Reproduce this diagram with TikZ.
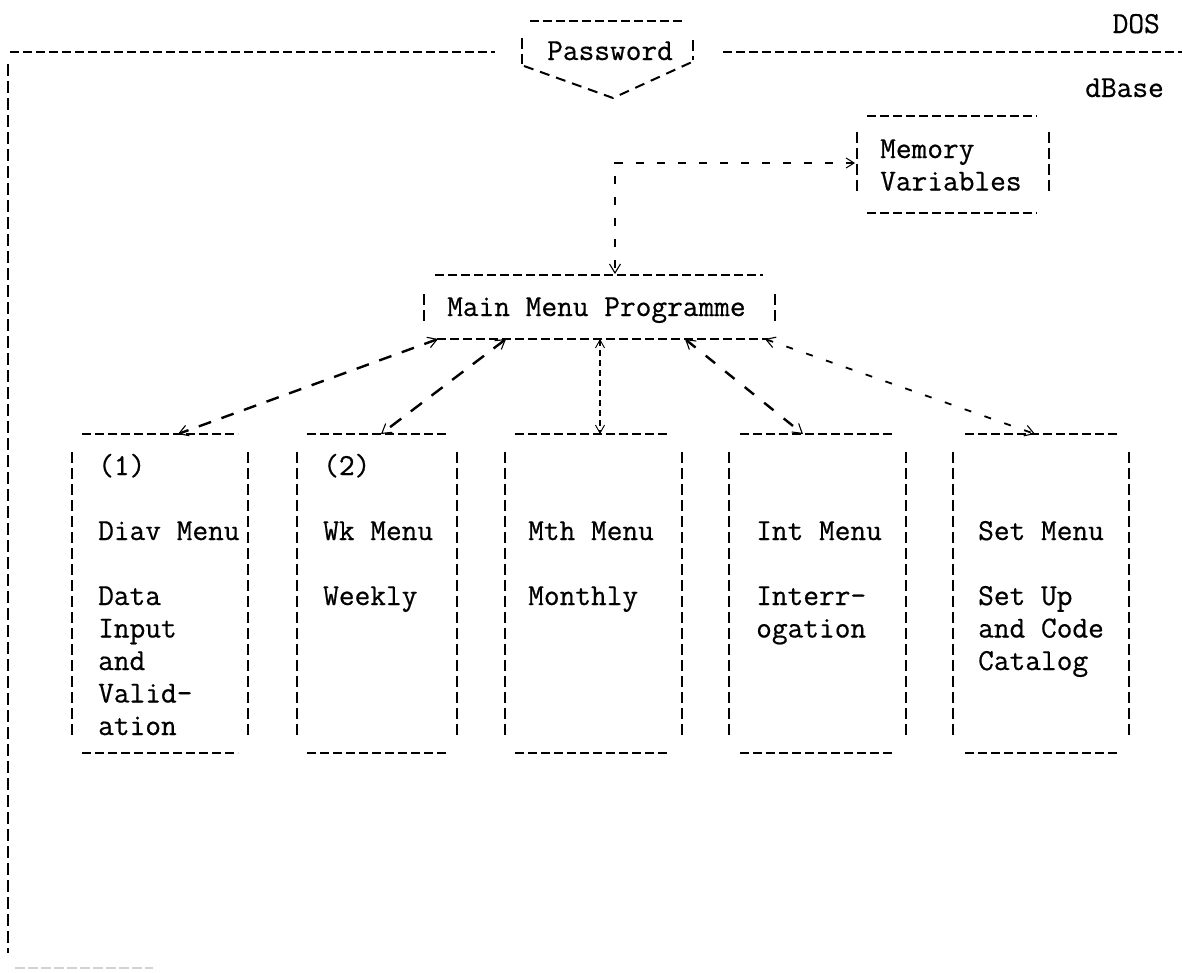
\documentclass[tikz,border=0pt]{standalone}
\usepackage{fontspec}
\newfontfamily\tw[FakeBold=0.6]{Latin Modern Mono}
\usetikzlibrary{arrows.meta}
\newcommand\tlines[1]{\begin{tabular}[t]{@{}l@{}}#1\end{tabular}}
\begin{document}
\begin{tikzpicture}[x=1pt,y=-1pt,
  txt/.style={inner sep=0pt, anchor=base west, font={\tw\fontsize{30.5}{32.5}\selectfont}},
  txtr/.style={txt, anchor=base east},
  hl/.style={line width=2.4pt, dash pattern=on 9pt off 4pt},
  vl/.style={line width=1.4pt, dash pattern=on 11pt off 5pt},
  arrthick/.style={line width=2.4pt, dash pattern=on 13pt off 11pt, {Straight Barb[length=9pt,width=11pt,line width=1.1pt]}-{Straight Barb[length=9pt,width=11pt,line width=1.1pt]}},
  arrthin/.style={line width=1.1pt, dash pattern=on 6pt off 4pt, {Straight Barb[length=8pt,width=9pt,line width=0.9pt]}-{Straight Barb[length=8pt,width=9pt,line width=0.9pt]}},
  arrmed/.style={line width=1.8pt, dash pattern=on 7pt off 14pt, {Straight Barb[length=9pt,width=11pt,line width=1.1pt]}-{Straight Barb[length=9pt,width=11pt,line width=1.1pt]}},
]
\useasboundingbox (0,0) rectangle (1182,972);

% ---- DOS / dBase level ----
\node[txtr] (dos) at (1160,33) {DOS};
\node[txtr] (dbase) at (1164,97) {dBase};
\draw[hl] (10,52) -- (495,52);
\draw[hl] (723,52) -- (1182,52);

% ---- Password ----
\node[txt] (pw) at (547,60) {Password};
\draw[hl] (530,21) -- (684,21);
\draw[vl] (522,38) -- (522,64);
\draw[vl] (693,40) -- (693,60);
\draw[line width=2pt, dash pattern=on 10pt off 7pt] (524,66) -- (613,98) -- (692,62);

% ---- left long line ----
\draw[line width=1.6pt, dash pattern=on 12pt off 5pt] (8,64) -- (8,953);
\draw[gray!35, line width=2pt, dash pattern=on 10pt off 3pt] (15,968) -- (153,968);

% ---- Memory Variables ----
\node[txt] (mem) at (880,158) {\tlines{Memory\\Variables}};
\draw[hl] (867,116) -- (1037,116);
\draw[vl] (857,132) -- (857,193);
\draw[vl] (1049,132) -- (1049,193);
\draw[hl] (867,213) -- (1037,213);

% ---- Main Menu Programme ----
\node[txt] (main) at (447,316) {Main Menu Programme};
\draw[hl] (435,275) -- (763,275);
\draw[vl] (424,294) -- (424,323);
\draw[vl] (775,294) -- (775,323);
\draw[hl] (437,339) -- (768,339);

\coordinate (memW) at (855,163);
\coordinate (mainN) at (615,274);
\draw[line width=1.6pt, dash pattern=on 8pt off 13pt, {Straight Barb[length=8pt,width=10pt,line width=1pt]}-{Straight Barb[length=9pt,width=11pt,line width=1.1pt]}] (memW) -| (mainN);

% ---- five menu boxes ----
\node[txt] (b1) at (98,475) {\tlines{(1)\\ \\Diav Menu\\ \\Data\\Input\\and\\Valid-\\ation}};
\node[txt] (b2) at (323,475) {\tlines{(2)\\ \\Wk Menu\\ \\Weekly}};
\node[txt] (b3) at (528,475) {\tlines{\\ \\Mth Menu\\ \\Monthly}};
\node[txt] (b4) at (756,475) {\tlines{\\ \\Int Menu\\ \\Interr-\\ogation}};
\node[txt] (b5) at (978,475) {\tlines{\\ \\Set Menu\\ \\Set Up\\and Code\\Catalog}};

\foreach \l/\r/\a/\b in {72/248/82/238, 297/457/307/447, 505/682/515/668, 729/906/740/895, 953/1129/965/1118}{
  \draw[hl] (\a,434) -- (\b,434);
  \draw[vl] (\l,452) -- (\l,740);
  \draw[vl] (\r,452) -- (\r,740);
  \draw[hl] (\a,753) -- (\b,753);
}

% ---- connectors main <-> boxes ----
\coordinate (m1) at (438,339); \coordinate (t1) at (178,434);
\coordinate (m2) at (506,339); \coordinate (t2) at (381,434);
\coordinate (m3) at (600,339); \coordinate (t3) at (600,434);
\coordinate (m4) at (685,339); \coordinate (t4) at (803,434);
\coordinate (m5) at (765,339); \coordinate (t5) at (1035,434);
\draw[arrthick] (m1) -- (t1);
\draw[arrthick, dash pattern=on 14pt off 12pt] (m2) -- (t2);
\draw[arrthin] (m3) -- (t3);
\draw[arrthick, dash pattern=on 12pt off 13pt] (m4) -- (t4);
\draw[arrmed] (m5) -- (t5);
\end{tikzpicture}
\end{document}
